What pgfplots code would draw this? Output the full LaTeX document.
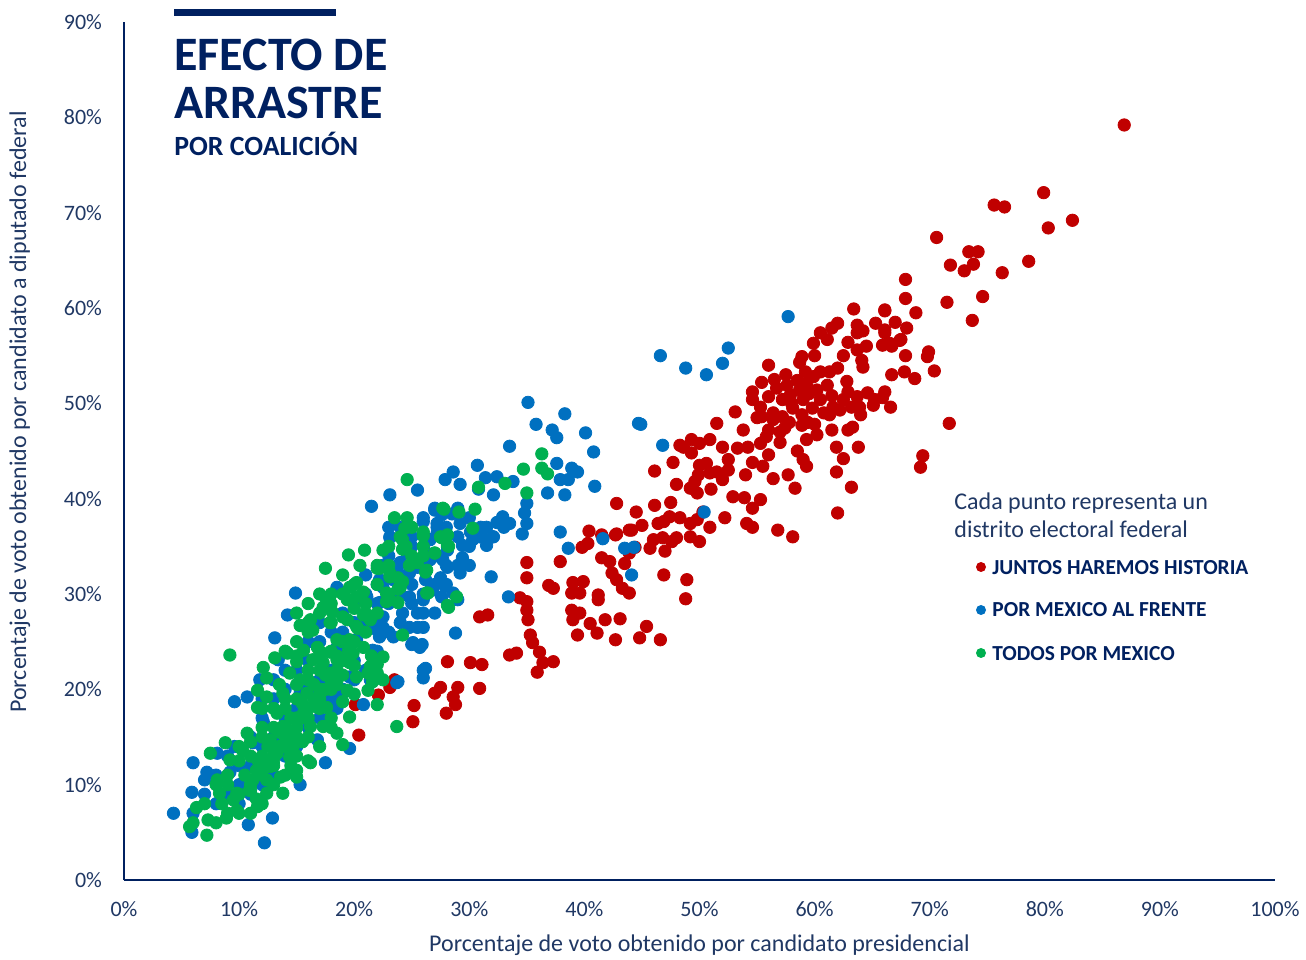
\documentclass[border=0pt]{standalone}
\usepackage{fontspec}
\setmainfont{Carlito}
\usepackage{pgfplots}
\pgfplotsset{compat=1.18}
\definecolor{navy}{HTML}{002060}
\definecolor{navyt}{HTML}{203864}
\definecolor{cred}{HTML}{C00000}
\definecolor{cblue}{HTML}{0070C0}
\definecolor{cgreen}{HTML}{00B050}
\begin{document}
\begin{tikzpicture}
\useasboundingbox (-62pt,-39.5pt) rectangle (591pt,440pt);
\begin{axis}[
  at={(0,0)}, anchor=south west,
  scale only axis, width=575.5pt, height=429pt,
  xmin=0, xmax=100, ymin=0, ymax=90,
  axis x line*=bottom, axis y line*=left,
  axis line style={-, navy, line width=1pt},
  major tick length=0pt,
  xtick={0,10,...,100}, ytick={0,10,...,90},
  xticklabels={0\%,10\%,20\%,30\%,40\%,50\%,60\%,70\%,80\%,90\%,100\%},
  yticklabels={0\%,10\%,20\%,30\%,40\%,50\%,60\%,70\%,80\%,90\%},
  tick label style={font=\fontsize{11}{13}\selectfont, text=navyt},
  xticklabel style={yshift=-7pt},
  yticklabel style={xshift=-7.5pt},
  xlabel={Porcentaje de voto obtenido por candidato presidencial},
  ylabel={Porcentaje de voto obtenido por candidato a diputado federal},
  label style={font=\fontsize{12}{14}\selectfont, text=navyt},
  xlabel style={at={(axis description cs:0.5,0)}, anchor=center, yshift=-32.5pt},
  ylabel style={at={(axis description cs:-0.0904,0.5455)}, anchor=center},
  clip=false,
]
\addplot[cred, only marks, mark=*, mark size=3.1pt, mark options={draw=cred, fill=cred}] table {
x y
86.9 79.2
79.9 72.1
75.6 70.8
76.5 70.6
82.4 69.2
80.3 68.4
70.6 67.4
73.4 65.9
74.2 65.9
73.8 64.6
71.8 64.5
73.0 63.9
78.6 64.9
76.3 63.7
67.9 63.0
67.9 61.0
71.5 60.6
74.6 61.2
73.7 58.7
66.1 59.7
68.8 59.5
67.0 58.5
68.0 57.9
66.1 57.7
67.5 56.7
66.7 56.0
65.9 56.1
67.9 55.0
69.9 55.4
69.8 54.9
70.4 53.4
67.8 53.3
66.7 53.0
68.7 52.6
66.1 51.2
65.9 50.6
66.6 49.6
71.7 47.9
69.4 44.5
69.2 43.3
63.4 59.9
66.1 59.8
65.3 58.4
62.0 58.4
61.5 57.9
60.5 57.4
59.9 56.3
61.1 56.7
63.7 58.2
63.7 57.4
64.2 57.6
62.9 56.4
63.7 55.6
66.1 57.4
66.5 56.3
67.4 56.6
64.2 53.8
64.1 54.5
62.0 53.7
61.3 53.3
60.5 53.3
59.9 52.8
58.9 54.9
58.7 54.3
59.2 53.3
56.0 54.0
57.6 51.9
58.5 52.4
59.3 52.1
60.2 51.4
61.1 51.9
58.7 51.4
57.9 50.9
56.7 51.6
56.0 50.7
55.4 52.2
54.6 51.2
54.6 50.4
55.3 49.6
57.2 50.4
58.1 49.5
59.0 50.4
59.8 49.5
60.5 50.4
61.6 49.6
62.5 50.4
62.9 51.2
63.7 50.7
64.6 51.1
65.2 50.4
65.1 49.8
63.9 49.6
63.2 49.6
62.2 49.3
61.3 48.8
58.9 48.8
59.4 48.0
57.2 48.6
56.4 48.3
55.4 48.6
56.0 47.2
57.0 45.9
57.4 47.4
58.9 47.7
59.3 46.2
60.2 46.7
61.5 47.2
62.9 47.2
63.3 47.5
61.9 45.4
63.8 45.4
62.5 44.2
61.9 42.8
63.2 41.2
62.0 38.5
59.0 44.1
59.3 43.4
57.7 42.5
58.3 41.1
56.4 42.1
55.5 43.4
56.0 44.6
54.6 43.8
55.3 45.8
55.0 48.5
53.1 49.1
51.5 47.9
56.4 49.0
57.0 47.0
53.3 45.3
54.2 45.4
52.0 45.4
52.5 44.1
52.5 43.0
51.5 42.8
52.0 42.0
50.9 42.7
50.6 43.7
50.0 43.5
49.9 42.5
49.6 41.8
49.2 41.1
49.8 40.6
48.6 45.4
48.3 45.6
49.3 46.2
50.0 45.8
50.9 46.2
49.3 44.8
47.7 43.8
46.1 42.9
52.9 40.2
53.9 40.1
55.3 39.9
54.6 39.0
56.8 36.7
58.1 36.0
54.1 37.4
54.6 37.0
52.2 38.0
50.9 37.0
50.3 38.6
49.8 37.8
49.2 37.4
48.3 38.0
47.4 38.1
46.9 37.6
46.4 37.4
46.1 39.3
42.8 39.5
48.0 35.9
47.6 35.5
46.8 35.9
46.0 35.7
45.7 34.8
44.1 36.7
42.7 36.2
44.4 34.9
41.5 36.2
49.2 36.0
40.4 36.6
42.8 36.3
41.6 35.9
39.8 34.9
40.3 35.3
41.5 33.8
42.2 33.4
43.9 36.7
43.9 34.3
43.5 33.2
42.4 32.2
42.8 31.5
43.3 30.6
43.9 30.1
39.0 31.2
39.9 31.3
38.9 30.1
39.6 30.1
38.9 28.3
39.6 28.0
39.0 27.3
41.2 29.9
41.8 27.3
43.1 27.4
40.5 26.9
41.1 25.9
39.4 25.7
42.7 25.2
37.9 33.4
36.9 30.9
37.3 30.6
35.0 33.3
35.0 31.7
34.4 29.6
35.0 29.2
35.0 28.3
35.1 27.3
35.3 25.7
35.5 24.9
36.1 23.9
35.9 21.8
36.4 22.8
37.3 22.9
33.5 23.6
34.1 23.8
30.9 27.6
31.6 27.8
28.1 22.9
30.1 22.8
31.1 22.6
27.5 20.2
29.0 20.2
30.9 20.1
27.0 19.6
28.6 19.2
23.1 20.2
23.5 21.0
22.1 19.4
25.2 18.3
25.1 16.6
20.1 18.4
20.4 15.2
28.8 18.4
28.0 17.5
44.8 25.4
46.6 25.2
45.4 26.6
48.9 31.5
48.8 29.5
41.2 29.4
46.9 32.0
57.5 53.0
60.0 55.0
62.5 55.0
64.5 56.0
56.5 52.5
59.5 51.0
61.5 50.8
62.8 52.3
58.0 50.0
60.8 49.0
64.0 48.8
57.8 48.0
60.0 47.8
55.8 46.5
53.8 47.2
58.5 45.0
54.0 42.5
51.0 41.0
48.0 41.5
47.5 39.6
45.0 37.2
44.5 38.6
47.0 34.5
50.0 35.5
};
\addplot[cblue, only marks, mark=*, mark size=3.1pt, mark options={draw=cblue, fill=cblue}] table {
x y
27.9 42.0
25.5 40.9
23.1 40.4
21.5 39.2
27.0 38.8
26.0 37.6
23.1 35.9
24.7 35.4
24.0 33.3
27.2 37.4
27.7 33.6
27.5 31.7
14.9 30.1
14.2 27.8
13.1 25.4
13.4 23.1
11.8 21.0
9.6 18.7
10.7 19.2
22.0 26.2
22.5 27.6
24.2 28.0
25.5 26.5
25.1 24.9
25.9 24.7
26.0 22.0
26.0 21.2
21.6 24.1
22.2 25.5
21.1 26.2
23.7 20.7
19.6 13.8
17.5 12.3
15.3 10.0
12.9 6.5
12.2 3.9
10.8 5.8
6.0 12.3
5.9 9.2
4.3 7.0
5.9 5.0
8.1 13.3
7.2 11.3
7.0 10.5
9.6 14.0
9.2 11.3
11.2 14.4
16.8 14.7
17.3 16.8
15.3 19.6
12.1 16.6
18.5 18.0
18.9 19.4
20.8 18.4
19.6 21.3
21.4 21.0
18.5 24.4
19.4 25.0
20.2 25.2
18.5 30.7
21.1 29.7
22.2 29.1
22.5 30.7
23.7 29.4
24.8 29.7
23.4 31.5
22.2 31.5
26.0 29.4
26.6 30.4
26.0 28.0
27.2 36.4
28.1 34.6
26.6 33.6
25.5 32.8
24.8 32.2
35.1 50.1
38.3 48.9
35.8 47.8
37.2 47.2
37.6 46.4
40.1 46.9
44.7 47.9
40.8 44.9
33.5 45.5
37.6 43.7
38.9 43.2
39.4 42.8
37.9 42.0
38.6 42.0
40.9 41.3
36.8 40.6
38.3 40.4
30.7 43.5
28.6 42.8
29.2 41.5
31.4 42.2
32.4 42.3
33.8 41.8
32.1 40.4
30.8 41.0
35.0 39.5
34.8 38.5
35.0 37.4
34.6 36.3
32.9 38.1
33.5 37.4
32.4 37.5
31.5 37.0
32.1 36.0
30.9 36.0
30.3 35.7
31.5 35.1
30.1 36.5
29.2 37.4
29.4 35.1
29.4 33.8
28.5 38.4
27.6 38.3
27.2 37.0
27.0 39.0
28.1 34.9
26.3 34.3
27.5 33.9
28.1 32.8
26.6 35.7
23.1 36.0
23.8 33.0
22.5 33.0
24.6 34.3
26.2 31.5
26.8 30.4
27.9 30.8
29.2 32.2
28.6 30.1
29.0 29.4
27.6 29.7
25.5 28.0
22.4 31.2
22.5 26.5
23.4 25.5
24.8 26.5
26.0 26.5
25.0 24.7
25.7 24.4
31.9 31.8
33.4 29.7
28.8 25.9
26.2 22.2
23.8 20.8
37.9 36.5
38.6 34.8
41.6 35.8
43.5 34.8
44.1 32.0
44.3 34.9
57.7 59.1
46.6 55.0
48.8 53.7
50.6 53.0
52.0 54.2
52.5 55.8
44.9 47.8
46.8 45.6
50.4 38.6
9 13
10 12
8 11
11 15
12 17
13 19
14 20
15 22
16 23
17 25
18 26
19 28
20 29
21 30
14 17
12 14
10 10
9 9
11 12
13 15
15 18
17 21
19 24
21 27
23 29
16 20
18 22
20 23
22 27
24 30
25 31
26 33
24 32
23 34
25 35
26 38
28 37
29 39
30 38
31 37
32 36
33 37
31 36
30 35
29 36
28 33
27 31
25 29
24 27
23 26
22 24
12 10
8 8
7 9
6 7
10 8
11 9
13 11
14 13
15 14
16 16
17 17
18 19
19 20
20 21
21 22
12 19
13 21
14 22
16 25
17 27
19 26
20 27
22 29
21 32
22 31
27 28
28 31
29 33
30 33
26 30
27 34
25 36
24 37
23 37
};
\addplot[cgreen, only marks, mark=*, mark size=3.1pt, mark options={draw=cgreen, fill=cgreen}] table {
x y
24.6 42.0
24.6 38.0
24.4 36.9
24.2 35.7
27.7 39.0
27.6 35.9
26.0 36.5
28.1 35.1
22.5 34.6
20.9 34.6
19.5 34.1
17.5 32.7
27.0 34.3
22.2 32.7
24.8 33.0
26.3 32.5
23.1 32.2
24.2 31.3
23.8 30.5
23.1 29.4
26.3 30.1
28.1 28.8
20.2 31.2
19.6 30.7
20.8 30.2
20.2 29.7
19.4 29.4
17.6 29.4
17.3 28.6
18.1 28.1
16.2 27.3
15.3 26.7
16.4 26.2
17.9 27.0
19.0 27.6
20.8 27.8
21.4 27.3
20.2 26.6
24.2 25.7
22.5 23.4
21.4 22.4
21.6 20.8
22.0 18.4
23.7 16.1
19.0 14.2
18.5 15.4
19.6 17.1
19.0 18.7
17.3 19.9
17.6 18.1
17.3 16.1
16.2 12.3
14.7 14.0
15.0 10.8
13.8 9.1
11.6 7.7
9.8 7.3
9.5 8.4
8.9 6.5
7.2 4.7
5.7 5.6
6.3 7.6
7.3 6.3
7.5 13.3
8.8 14.4
9.2 12.6
10.3 13.6
8.1 10.5
10.7 15.4
9.2 23.6
11.6 18.1
11.6 19.9
12.4 19.2
12.1 22.3
12.4 21.2
13.1 23.3
14.2 23.8
15.6 24.1
14.4 21.7
15.0 22.9
15.3 21.0
15.9 19.6
13.8 19.6
13.3 17.5
13.8 16.1
14.4 14.7
12.7 14.7
13.3 13.3
14.4 12.9
12.7 11.9
11.6 12.6
11.2 10.5
12.4 10.5
13.6 10.8
10.9 9.4
12.4 9.1
9.8 9.1
8.3 9.1
16.4 23.1
16.8 24.4
17.3 22.8
17.9 21.7
18.5 23.1
19.6 22.8
20.2 21.3
18.5 20.5
19.4 19.9
16.8 18.1
15.6 17.5
16.2 16.1
18.5 25.2
17.9 23.9
19.6 25.2
20.8 24.4
19.9 23.8
22.0 21.7
36.3 44.7
34.7 43.1
36.3 43.2
36.8 42.6
35.0 40.6
33.1 41.6
30.8 41.2
27.8 38.9
29.1 38.6
30.5 38.9
30.3 36.9
26.0 36.1
27.5 36.0
28.1 36.2
28.2 35.0
27.0 34.3
24.2 34.7
22.0 32.7
23.1 31.8
23.8 31.7
25.5 33.3
26.2 32.3
24.0 30.7
22.8 30.1
22.8 29.2
23.8 29.1
26.4 30.1
28.9 29.7
28.2 28.6
21.4 27.5
20.3 26.4
19.4 27.3
22.0 22.6
21.2 21.7
21.2 19.9
8 10
9 11
10 9
11 10
12 12
13 13
14 15
15 16
16 18
17 20
18 21
19 23
20 25
21 26
22 28
23 30
24 31
25 34
26 35
10 14
11 13
12 15
13 16
14 18
15 19
16 21
17 22
18 24
19 25
13 12
14 11
15 13
16 15
17 18
18 17
12 8
11 7
9 7
8 6
7 8
6 6
14 24
15 25
16 27
17 24
18 27
21 29
20 31
22 33
23 35
24 36
19 32
18 30
17 30
16 29
15 28
13 14
14 16
15 17
12 13
10.5 11
11.5 11.5
12.5 12.5
13.5 14
14.5 15.5
15.5 17
16.5 19
17.5 20
18.5 22
19.5 24
11 9.5
12 11
13 12.5
14 14
15 15
16 17
17 19
18 20
19 21.5
20 22.5
12.5 14
13.5 15.5
14.5 17
15.5 18.5
16.5 20.5
17.5 21.5
18.5 23.5
14 19
15 20.5
16 22
17 23.5
13 18
12 16
11 14.5
10 12.5
9 10
8.5 8
10 7
11.5 8.5
13 10
14.5 12
15.5 14.5
12 18
13.5 20.5
15 23.5
16 26
17 28
18 29
19 30
20 28.5
21 28
22 31
23 33
20.5 33
25 37
26 34
23.5 38
24.5 35
21.5 23.5
22.5 21
20 19.5
18 16
17 14
16 12.5
15 11.5
};
\end{axis}
% title block
\fill[navy] (25pt,432pt) rectangle (106pt,435.5pt);
\node[anchor=base west, inner sep=0pt, text=navy, font=\fontsize{24}{24}\selectfont\bfseries] at (25pt,404.5pt) {EFECTO DE};
\node[anchor=base west, inner sep=0pt, text=navy, font=\fontsize{24}{24}\selectfont\bfseries] at (25pt,380.5pt) {ARRASTRE};
\node[anchor=base west, inner sep=0pt, text=navy, font=\fontsize{13.9}{15}\selectfont\bfseries] at (25pt,362pt) {POR COALICIÓN};
% annotation / legend
\node[anchor=base west, inner sep=0pt, text=navyt, font=\fontsize{12}{14}\selectfont] at (415pt,185pt) {Cada punto representa un};
\node[anchor=base west, inner sep=0pt, text=navyt, font=\fontsize{12}{14}\selectfont] at (415pt,171pt) {distrito electoral federal};
\fill[cred] (428.5pt,156.5pt) circle (2.5pt);
\fill[cblue] (428.5pt,135pt) circle (2.5pt);
\fill[cgreen] (428.5pt,113.5pt) circle (2.5pt);
\node[anchor=base west, inner sep=0pt, text=navy, font=\fontsize{10.7}{12}\selectfont\bfseries] at (434pt,152.5pt) {JUNTOS HAREMOS HISTORIA};
\node[anchor=base west, inner sep=0pt, text=navy, font=\fontsize{10.7}{12}\selectfont\bfseries] at (434pt,131.5pt) {POR MEXICO AL FRENTE};
\node[anchor=base west, inner sep=0pt, text=navy, font=\fontsize{10.7}{12}\selectfont\bfseries] at (434pt,110pt) {TODOS POR MEXICO};
\end{tikzpicture}
\end{document}
